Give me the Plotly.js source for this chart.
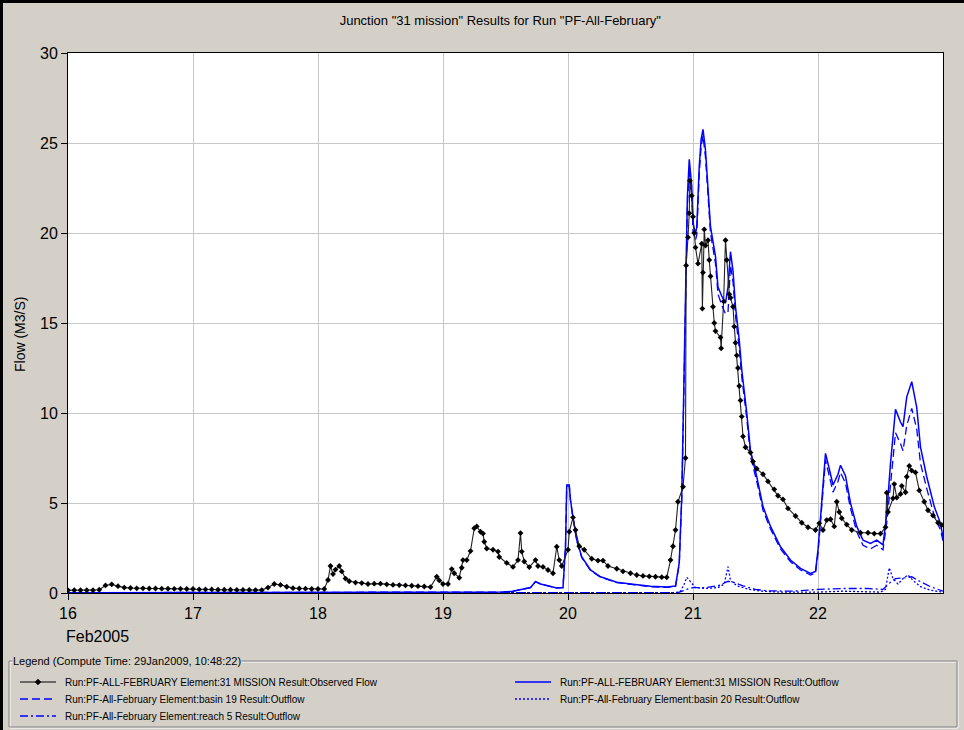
<!DOCTYPE html>
<html><head><meta charset="utf-8">
<script src="https://cdn.plot.ly/plotly-3.0.1.min.js"></script>
<style>
html,body{margin:0;padding:0;background:#d4d0c8;}
#wrap{position:relative;width:964px;height:730px;}
#chart{width:964px;height:730px;}
#frame{position:absolute;left:0;top:0;width:964px;height:730px;box-sizing:border-box;border-top:3px solid #000;border-left:3px solid #000;pointer-events:none;}
</style>
</head><body>
<div id="wrap"><div id="chart"></div><div id="frame"></div></div>
<script>
// ---- Data (time in days of Feb 2005) ----
const xTickVals = [16, 17, 18, 19, 20, 21, 22];
const xTickText = ['16', '17', '18', '19', '20', '21', '22'];
const yTickVals = [0, 5, 10, 15, 20, 25, 30];

// Observed flow, 31 MISSION
const obsT = [16.00,16.05,16.10,16.15,16.20,16.25,16.30,16.35,16.40,16.45,
  16.50,16.55,16.60,16.65,16.70,16.75,16.80,16.85,16.90,16.95,
  17.00,17.05,17.10,17.15,17.20,17.25,17.30,17.35,17.40,17.45,
  17.50,17.55,17.60,17.65,17.70,17.75,17.80,17.85,17.90,17.95,
  18.00,18.05,18.08,18.10,18.12,18.14,18.17,18.19,18.22,18.25,
  18.30,18.35,18.40,18.45,18.50,18.55,18.60,18.65,18.70,18.75,
  18.80,18.85,18.90,18.95,18.97,19.00,19.04,19.07,19.09,19.13,
  19.15,19.16,19.19,19.22,19.25,19.27,19.30,19.32,19.33,19.35,
  19.40,19.44,19.45,19.51,19.56,19.60,19.62,19.63,19.65,19.69,
  19.74,19.76,19.80,19.84,19.88,19.91,19.93,19.95,20.00,20.01,
  20.04,20.06,20.09,20.13,20.19,20.24,20.28,20.32,20.39,20.44,
  20.50,20.55,20.60,20.65,20.70,20.75,20.79,20.82,20.84,20.86,
  20.88,20.92,20.94,20.945,20.96,20.97,20.975,20.99,21.00,21.01,
  21.02,21.04,21.07,21.075,21.08,21.09,21.10,21.12,21.13,21.14,
  21.16,21.17,21.18,21.22,21.225,21.245,21.26,21.27,21.29,21.30,
  21.32,21.33,21.34,21.35,21.36,21.37,21.38,21.39,21.40,21.42,
  21.46,21.48,21.51,21.56,21.60,21.65,21.68,21.72,21.76,21.82,
  21.87,21.92,21.98,22.01,22.04,22.07,22.10,22.13,22.15,22.17,
  22.19,22.23,22.27,22.34,22.40,22.45,22.50,22.54,22.55,22.56,
  22.60,22.61,22.63,22.66,22.67,22.70,22.71,22.73,22.75,22.78,
  22.81,22.85,22.88,22.92,22.96,22.99];
const obsV = [0.15,0.15,0.15,0.15,0.15,0.18,0.42,0.48,0.38,0.3,
  0.28,0.26,0.26,0.25,0.25,0.24,0.24,0.23,0.23,0.22,
  0.22,0.2,0.2,0.2,0.18,0.18,0.18,0.17,0.17,0.17,
  0.16,0.16,0.3,0.5,0.45,0.35,0.27,0.25,0.24,0.22,
  0.22,0.22,0.72,1.5,1.05,1.3,1.5,1.2,0.8,0.65,
  0.58,0.55,0.5,0.52,0.52,0.48,0.45,0.44,0.42,0.4,
  0.38,0.36,0.33,0.9,0.7,0.5,0.5,1.33,1.1,0.85,
  1.4,1.83,1.83,2.33,3.6,3.7,3.4,3.3,2.85,2.47,
  2.4,2.3,2.0,1.67,1.45,1.83,3.33,2.3,1.75,1.44,
  1.83,1.5,1.45,1.28,1.1,2.57,1.83,1.5,2.4,3.4,
  4.2,3.5,2.6,2.4,1.9,1.8,1.8,1.5,1.35,1.2,
  1.1,1.0,0.95,0.92,0.9,0.88,0.87,1.83,2.6,3.5,
  5.07,5.9,7.5,18.2,19.76,21.1,22.9,22.07,20.9,20.0,
  19.2,18.3,19.4,15.8,17.8,20.2,19.3,19.6,18.5,17.6,
  15.9,15.0,14.55,14.2,13.6,16.2,19.6,18.5,16.6,16.4,
  15.9,14.8,13.9,13.2,12.5,11.5,10.7,9.8,8.7,8.1,
  7.8,7.3,6.9,6.6,6.2,5.76,5.4,5.2,4.7,4.28,
  3.9,3.65,3.5,3.87,3.5,4.05,4.1,3.7,5.07,4.5,
  4.15,3.8,3.5,3.35,3.35,3.3,3.3,3.65,5.57,4.5,
  5.26,6.05,5.3,5.5,5.95,5.6,6.46,7.06,6.8,6.7,
  5.7,5.07,4.6,4.3,3.9,3.78];

// Simulated outflow, 31 MISSION, and basin 19 outflow (same times)
const outT = [16.0,19.48,19.56,19.70,19.74,19.78,19.91,19.96,19.98,19.99,
  20.01,20.02,20.04,20.07,20.11,20.18,20.26,20.39,20.52,20.66,
  20.79,20.86,20.89,20.91,20.92,20.935,20.955,20.97,20.99,21.00,
  21.02,21.03,21.05,21.065,21.08,21.10,21.12,21.14,21.18,21.20,
  21.23,21.26,21.28,21.30,21.32,21.34,21.37,21.39,21.43,21.46,
  21.51,21.56,21.62,21.70,21.78,21.86,21.94,21.98,22.00,22.03,
  22.06,22.09,22.12,22.16,22.18,22.22,22.26,22.31,22.36,22.42,
  22.47,22.52,22.55,22.58,22.62,22.66,22.68,22.71,22.75,22.79,
  22.82,22.87,22.93,22.98,23.0];
const outV = [0.02,0.05,0.1,0.3,0.63,0.5,0.28,0.3,2.57,6.0,
  6.0,5.17,4.2,2.94,2.0,1.28,0.9,0.6,0.48,0.37,
  0.33,0.39,1.67,5.35,9.0,14.6,22.0,24.1,22.6,20.5,
  20.0,20.3,23.7,25.2,25.76,24.6,22.6,20.35,18.7,17.0,
  16.5,16.1,17.0,18.96,17.9,15.9,14.05,12.4,10.0,7.9,
  6.46,4.8,3.7,2.57,1.83,1.37,1.09,1.2,2.4,5.35,
  7.76,6.9,6.0,6.6,7.1,6.5,5.0,3.7,2.94,2.76,
  2.94,2.67,4.4,7.2,10.2,9.5,9.24,10.9,11.74,10.3,
  8.1,6.46,4.8,3.87,3.1];
const b19V = [0.02,0.05,0.1,0.3,0.63,0.5,0.28,0.3,2.57,5.95,
  5.95,5.1,4.15,2.9,1.97,1.25,0.88,0.58,0.46,0.35,
  0.31,0.36,1.6,5.2,8.7,14.2,21.5,23.6,22.2,20.1,
  19.6,19.9,23.3,24.8,25.4,24.2,22.2,20.0,18.3,16.6,
  16.0,15.5,15.6,18.2,17.3,15.4,13.6,12.0,9.7,7.6,
  6.2,4.6,3.55,2.45,1.73,1.28,1.0,1.1,2.2,5.0,
  7.4,6.5,5.6,6.2,6.7,6.1,4.7,3.4,2.65,2.45,
  2.65,2.4,3.9,6.0,8.9,8.3,7.9,9.3,10.26,9.1,
  7.2,5.8,4.3,3.5,2.9];

// basin 20 outflow
const b20T = [16.0,20.86,20.9,20.93,20.95,20.98,21.02,21.1,21.2,21.25,
  21.28,21.30,21.35,21.45,21.55,21.7,22.0,22.2,22.5,22.54,
  22.57,22.60,22.64,22.68,22.72,22.76,22.82,22.9,23.0];
const b20V = [0.0,0.02,0.1,0.5,0.87,0.6,0.3,0.25,0.3,0.5,
  1.46,0.7,0.4,0.2,0.1,0.05,0.05,0.1,0.05,0.2,
  1.4,0.8,0.5,0.8,1.0,0.7,0.35,0.15,0.05];

// reach 5 outflow
const r5T = [16.0,20.88,20.95,21.0,21.1,21.2,21.28,21.32,21.4,21.5,
  21.6,21.8,22.0,22.2,22.4,22.52,22.58,22.62,22.7,22.75,
  22.8,22.9,23.0];
const r5V = [0.0,0.02,0.2,0.3,0.3,0.4,0.65,0.6,0.4,0.2,
  0.12,0.1,0.2,0.25,0.25,0.2,0.6,0.8,0.85,0.9,
  0.7,0.35,0.1];

const names = [
  'Run:PF-ALL-FEBRUARY Element:31 MISSION Result:Observed Flow',
  'Run:PF-ALL-FEBRUARY Element:31 MISSION Result:Outflow',
  'Run:PF-All-February Element:basin 19 Result:Outflow',
  'Run:PF-All-February Element:basin 20 Result:Outflow',
  'Run:PF-All-February Element:reach 5 Result:Outflow'
];

// ---- Geometry helpers (pixel -> paper) ----
const W = 964, H = 730, L = 68, R = 21, T = 53, B = 137;
const pw = W - L - R, ph = H - T - B;
const px = v => (v - L) / pw;
const py = v => (H - B - v) / ph;

const BLUE = '#0000ff';
const DASH = '8px,4px', DOT = '2px,2px', DASHDOT = '8px,3px,2px,3px';
const traces = [
  {x: r5T, y: r5V, name: names[4], mode: 'lines',
   line: {color: BLUE, width: 1.3, dash: DASHDOT}},
  {x: b20T, y: b20V, name: names[3], mode: 'lines',
   line: {color: BLUE, width: 1.3, dash: DOT}},
  {x: outT, y: b19V, name: names[2], mode: 'lines',
   line: {color: BLUE, width: 1.3, dash: DASH}},
  {x: outT, y: outV, name: names[1], mode: 'lines',
   line: {color: BLUE, width: 1.5}},
  {x: obsT, y: obsV, name: names[0], mode: 'lines+markers',
   line: {color: '#222', width: 1.1},
   marker: {symbol: 'diamond', size: 4.5, color: '#000'}}
];

// ---- Legend drawn in the grey panel below the plot ----
const legendRows = [
  {col: 0, row: 0, name: names[0], color: '#000', dash: 'solid', marker: true},
  {col: 1, row: 0, name: names[1], color: BLUE, dash: 'solid'},
  {col: 0, row: 1, name: names[2], color: BLUE, dash: DASH},
  {col: 1, row: 1, name: names[3], color: BLUE, dash: DOT},
  {col: 0, row: 2, name: names[4], color: BLUE, dash: DASHDOT}
];
const colX = [20, 515], rowY = [682, 699, 716];
const shapes = [
  {type: 'rect', xref: 'paper', yref: 'paper', x0: px(10), x1: px(958), y0: py(662), y1: py(728),
   line: {color: '#ffffff', width: 1}},
  {type: 'rect', xref: 'paper', yref: 'paper', x0: px(9), x1: px(957), y0: py(661), y1: py(727),
   line: {color: '#808080', width: 1}}
];
const annotations = [
  {text: 'Legend (Compute Time: 29Jan2009, 10:48:22)', xref: 'paper', yref: 'paper',
   x: px(12), y: py(661), xanchor: 'left', yanchor: 'middle', showarrow: false,
   bgcolor: '#d4d0c8', font: {size: 11, color: '#000'}, borderpad: 0},
  {text: 'Feb2005', xref: 'paper', yref: 'paper', x: px(64), y: py(636),
   xanchor: 'left', yanchor: 'middle', showarrow: false, font: {size: 16, color: '#000'}},
  {text: 'Flow (M3/S)', xref: 'paper', yref: 'paper', x: px(20), y: py(335),
   xanchor: 'center', yanchor: 'middle', textangle: -90, showarrow: false,
   font: {size: 14, color: '#000'}}
];
legendRows.forEach(e => {
  const x0 = colX[e.col], y = rowY[e.row];
  shapes.push({type: 'line', xref: 'paper', yref: 'paper', x0: px(x0), x1: px(x0 + 36),
    y0: py(y), y1: py(y), line: {color: e.color, width: e.color === BLUE ? 1.5 : 1.2, dash: e.dash}});
  if (e.marker) {
    const cx = x0 + 18;
    shapes.push({type: 'path', xref: 'paper', yref: 'paper',
      path: `M ${px(cx - 3)} ${py(y)} L ${px(cx)} ${py(y - 3)} L ${px(cx + 3)} ${py(y)} L ${px(cx)} ${py(y + 3)} Z`,
      fillcolor: '#000', line: {color: '#000', width: 0.5}});
  }
  annotations.push({text: e.name, xref: 'paper', yref: 'paper', x: px(x0 + 43), y: py(y),
    xanchor: 'left', yanchor: 'middle', showarrow: false, font: {size: 10, color: '#000'}});
});

const layout = {
  width: W, height: H,
  paper_bgcolor: '#d4d0c8', plot_bgcolor: '#ffffff',
  margin: {l: L, r: R, t: T, b: B, pad: 0, autoexpand: false},
  font: {family: 'Liberation Sans, Arial, sans-serif', color: '#000'},
  title: {text: 'Junction "31 mission" Results for Run "PF-All-February"',
    font: {size: 13, color: '#000'}, xref: 'paper', x: 0.494, xanchor: 'center',
    yref: 'container', y: 1 - 20 / H, yanchor: 'middle'},
  xaxis: {range: [16, 23], tickvals: xTickVals, ticktext: xTickText,
    ticks: 'outside', ticklen: 6, tickcolor: '#000', tickwidth: 1,
    showline: true, linecolor: '#000', linewidth: 1, mirror: true,
    showgrid: true, gridcolor: '#c8c8c8', gridwidth: 1, zeroline: false,
    tickfont: {size: 16, color: '#000'}},
  yaxis: {range: [0, 30], tickvals: yTickVals,
    ticks: 'outside', ticklen: 6, tickcolor: '#000', tickwidth: 1,
    showline: true, linecolor: '#000', linewidth: 1, mirror: true,
    showgrid: true, gridcolor: '#c8c8c8', gridwidth: 1, zeroline: false,
    tickfont: {size: 16, color: '#000'}},
  showlegend: false,
  shapes: shapes,
  annotations: annotations
};

Plotly.newPlot('chart', traces, layout, {displayModeBar: false, staticPlot: true});
</script>
</body></html>
